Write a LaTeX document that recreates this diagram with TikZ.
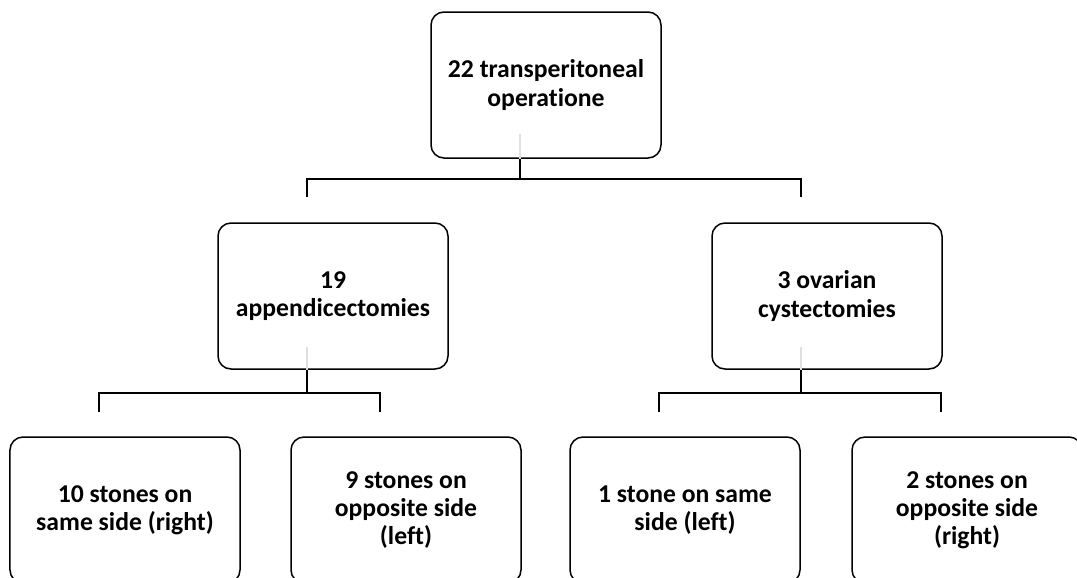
\documentclass[tikz,border=0pt]{standalone}
\usepackage{fontspec}
\setmainfont{Carlito}[Ligatures=NoCommon]
\usetikzlibrary{calc}

\begin{document}
\begin{tikzpicture}[
    box/.style = {draw, rounded corners=0.26cm, line width=0.03cm, minimum width=4.6cm, minimum height=2.92cm, align=center, inner sep=0pt, font=\fontsize{14.6}{16}\selectfont\bfseries},
    link/.style = {line width=0.03cm},
    ghost/.style = {gray!25, line width=0.03cm}
  ]
    \clip (0,0) rectangle (21.54,-11.54);

    % boxes
    \node [box] (ops) at (10.92,-1.70) {22 transperitoneal\\operatione};
    \node [box] (app) at (6.66,-5.92) {19\\appendicectomies};
    \node [box] (ova) at (16.54,-5.92) {3 ovarian\\cystectomies};
    \node [box] (appsame) at (2.50,-10.20) {10 stones on\\same side (right)};
    \node [box] (appopp) at (8.12,-10.20) {9 stones on\\opposite side\\(left)};
    \node [box] (ovasame) at (13.70,-10.20) {1 stone on same\\side (left)};
    \node [box] (ovaopp) at (19.34,-10.20) {2 stones on\\opposite side\\(right)};

    % connector ends
    \coordinate (opsin) at ($(ops.south)+(-0.52,0.5)$);
    \coordinate (opsbar) at ($(ops.south)+(-0.52,-0.4)$);
    \coordinate (appin) at ($(app.south)+(-0.52,0.46)$);
    \coordinate (appbar) at ($(app.south)+(-0.52,-0.46)$);
    \coordinate (ovain) at ($(ova.south)+(-0.52,0.46)$);
    \coordinate (ovabar) at ($(ova.south)+(-0.52,-0.46)$);
    \coordinate (apptip) at ($(app.north)+(-0.52,0.5)$);
    \coordinate (ovatip) at ($(ova.north)+(-0.52,0.5)$);
    \coordinate (appsametip) at ($(appsame.north)+(-0.52,0.48)$);
    \coordinate (appopptip) at ($(appopp.north)+(-0.52,0.48)$);
    \coordinate (ovasametip) at ($(ovasame.north)+(-0.52,0.48)$);
    \coordinate (ovaopptip) at ($(ovaopp.north)+(-0.52,0.48)$);

    % connectors
    \draw [ghost] (opsin) -- (opsin |- ops.south);
    \draw [link] (opsin |- ops.south) -- (opsbar);
    \draw [link] (apptip) |- (opsbar) -| (ovatip);

    \draw [ghost] (appin) -- (appin |- app.south);
    \draw [link] (appin |- app.south) -- (appbar);
    \draw [link] (appsametip) |- (appbar) -| (appopptip);

    \draw [ghost] (ovain) -- (ovain |- ova.south);
    \draw [link] (ovain |- ova.south) -- (ovabar);
    \draw [link] (ovasametip) |- (ovabar) -| (ovaopptip);
\end{tikzpicture}
\end{document}
